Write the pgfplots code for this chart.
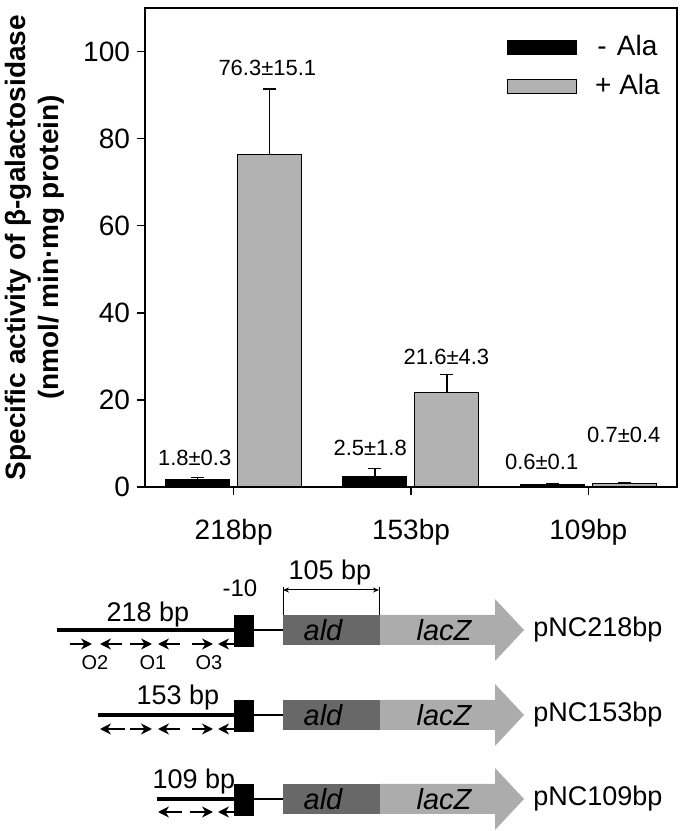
\documentclass[border=0pt]{standalone}
\usepackage{fontspec}
\setmainfont{Liberation Sans}
\usepackage{pgfplots}
\pgfplotsset{compat=1.18}
\usetikzlibrary{arrows.meta}
\definecolor{bargray}{RGB}{178,178,178}
\definecolor{alddark}{RGB}{104,104,104}
\definecolor{lacgray}{RGB}{172,172,172}
\newcommand\fs[1]{\fontsize{#1}{#1}\selectfont}
\pgfplotsset{myleg/.style={legend image code/.code={\draw[##1] (0pt,-3.5pt) rectangle (34.5pt,3.5pt);}}}
\begin{document}
\begin{tikzpicture}
\path[use as bounding box] (0,0) rectangle (340pt,415.5pt);
\begin{axis}[
  at={(72.5pt,172pt)}, anchor=south west,
  scale only axis, width=266pt, height=239.5pt,
  xmin=-0.5, xmax=2.5, ymin=0, ymax=110,
  xtick={0,1,2}, xticklabels={218bp,153bp,109bp},
  ytick={0,20,40,60,80,100},
  tick align=outside, xtick pos=bottom, ytick pos=left,
  major tick length=4pt,
  axis line style={line width=0.7pt},
  tick style={line width=0.7pt, black},
  ticklabel style={font=\fs{14}},
  /pgf/number format/assume math mode=true,
  xticklabel style={yshift=-8.5pt},
  ylabel={Specific activity of β-galactosidase\\(nmol/ min·mg protein)},
  ylabel style={at={(axis description cs:-0.2077,0.5)}, anchor=center, align=center, font=\bfseries\fontsize{14}{16.5}\selectfont},
  legend style={draw=none, fill=none, at={(axis description cs:0.68,0.952)}, anchor=north west, font=\fs{14}, row sep=4pt, inner sep=0pt},
  legend cell align=left,
  clip=false,
]
\addplot[ybar, bar width=32pt, bar shift=0pt, fill=black, draw=black, line width=0.5pt, myleg,
  error bars/.cd, y dir=plus, y explicit,
  error bar style={line width=0.6pt, black},
  error mark options={rotate=90, mark size=3.25pt, line width=0.6pt, black}]
  coordinates {(-0.203,1.8) +- (0,0.3) (0.797,2.5) +- (0,1.8) (1.797,0.6) +- (0,0.1)};
\addlegendentry{\hspace*{7pt}\makebox[0.5em]{-} Ala}
\addplot[ybar, bar width=32pt, bar shift=0pt, fill=bargray, draw=black, line width=0.5pt, myleg,
  error bars/.cd, y dir=plus, y explicit,
  error bar style={line width=0.6pt, black},
  error mark options={rotate=90, mark size=3.25pt, line width=0.6pt, black}]
  coordinates {(0.203,76.3) +- (0,15.1) (1.203,21.6) +- (0,4.3) (2.203,0.7) +- (0,0.4)};
\addlegendentry{\hspace*{7pt}+ Ala}
\node[font=\fs{11}] at (axis cs:0.19,96.3) {76.3±15.1};
\node[font=\fs{11}] at (axis cs:-0.22,6.7) {1.8±0.3};
\node[font=\fs{11}] at (axis cs:0.77,9.0) {2.5±1.8};
\node[font=\fs{11}] at (axis cs:1.20,29.9) {21.6±4.3};
\node[font=\fs{11}] at (axis cs:1.737,5.7) {0.6±0.1};
\node[font=\fs{11}] at (axis cs:2.20,12.0) {0.7±0.4};
\end{axis}
% ---- construct diagram (pixel coordinates of the reference) ----
\begin{scope}[x=0.5pt, y=-0.5pt, shift={(0,415.5pt)}]
  % bracket 105 bp
  \draw[line width=0.5pt] (283,615)--(283,587);
  \draw[line width=0.5pt] (379,615)--(379,587);
  \draw[line width=0.5pt, {Stealth[length=3pt,width=2.5pt]}-{Stealth[length=3pt,width=2.5pt]}] (283,590)--(379,590);
  \node[font=\fs{13.5}] at (330,573) {105 bp};
  \node[font=\fs{12}] at (240,588) {-10};
  % rows
  \foreach \yc/\xs/\lab/\lx/\ly/\pn in {630/57/218 bp/148/615/pNC218bp, 715/98/153 bp/178/698/pNC153bp, 799/157/109 bp/194/782/pNC109bp}{
    \draw[line width=1.7pt] (\xs,\yc)--(240,\yc);
    \draw[line width=1.3pt] (240,\yc)--(284,\yc);
    \fill[black] (234,\yc-15) rectangle (254,\yc+17);
    \fill[alddark] (283,\yc-15) rectangle (380.5,\yc+15);
    \fill[lacgray] (380,\yc-15)--(495,\yc-15)--(495,\yc-31)--(524,\yc)--(495,\yc+31)--(495,\yc+15)--(380,\yc+15)--cycle;
    \node[font=\itshape\fs{14.5}] at (323,\yc) {ald};
    \node[font=\itshape\fs{14.5}] at (444,\yc) {lacZ};
    \node[font=\fs{13.5}, anchor=west, inner sep=0pt] at (533,\yc) {\pn};
    \node[font=\fs{13.5}] at (\lx,\ly) {\lab};
  }
  % operator arrows
  \tikzset{op/.style={line width=1.1pt, -{Stealth[length=5.5pt,width=5.5pt]}}}
  \draw[op] (70,644)--(92,644);
  \draw[op] (122,644)--(100,644);
  \draw[op] (130,644)--(152,644);
  \draw[op] (180,644)--(158,644);
  \draw[op] (192,644)--(213,644);
  \draw[op] (234,644)--(218,644);
  \node[font=\fs{10}] at (95,663) {O2};
  \node[font=\fs{10}] at (153,663) {O1};
  \node[font=\fs{10}] at (209,663) {O3};
  \draw[op] (125,729)--(100,729);
  \draw[op] (130,729)--(152,729);
  \draw[op] (180,729)--(158,729);
  \draw[op] (192,729)--(213,729);
  \draw[op] (234,729)--(218,729);
  \draw[op] (182,812)--(158,812);
  \draw[op] (190,812)--(213,812);
  \draw[op] (234,812)--(218,812);
\end{scope}
\end{tikzpicture}
\end{document}
